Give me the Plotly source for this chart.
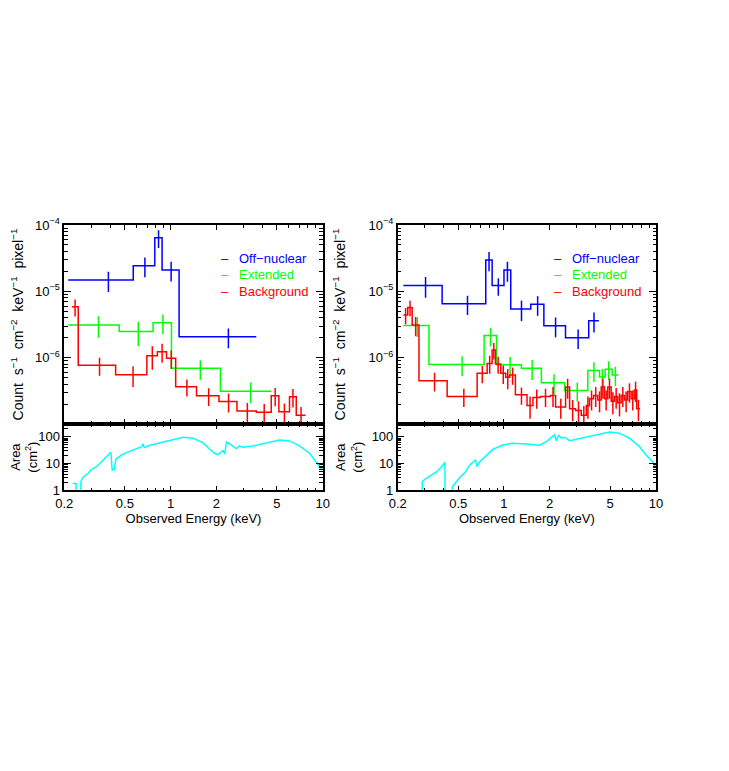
import plotly.graph_objects as go

# ---- values (energy in keV) ----

# left panel: count spectra
LEFT_BLUE_EDGES = [0.212, 0.568, 0.787, 0.879, 1.137, 3.66]
LEFT_BLUE_VALUES = [1.48e-5, 2.43e-5, 6.4e-5, 2.1e-5, 2.07e-6]
LEFT_BLUE_ERRORS = [0.5e-5, 0.8e-5, 1.9e-5, 0.69e-5, 0.68e-6]

LEFT_GREEN_EDGES = [0.212, 0.459, 0.767, 1.013, 2.126, 4.59]
LEFT_GREEN_VALUES = [3.1e-6, 2.49e-6, 3.37e-6, 6.9e-7, 3.13e-7]
LEFT_GREEN_ERRORS = [1.1e-6, 1.0e-6, 1.1e-6, 2.25e-7, 1.08e-7]

LEFT_RED_EDGES = [0.224, 0.247, 0.435, 0.698, 0.818, 0.94, 1.08, 1.48, 2.08,
                  2.73, 3.66, 4.59, 5.15, 6.05, 6.70, 7.71]
LEFT_RED_VALUES = [5.86e-6, 7.66e-7, 5.52e-7, 1.07e-6, 1.23e-6, 9.8e-7, 3.64e-7,
                   2.67e-7, 2.19e-7, 1.57e-7, 1.50e-7, 2.67e-7, 1.53e-7, 2.58e-7,
                   1.36e-7]
LEFT_RED_ERRORS = [1.7e-6, 2.3e-7, 1.9e-7, 4.1e-7, 3.9e-7, 3.0e-7, 1.05e-7, 0.8e-7,
                   0.7e-7, 0.5e-7, 0.5e-7, 0.82e-7, 0.5e-7, 0.8e-7, 0.45e-7]

# right panel: count spectra
RIGHT_BLUE_EDGES = [0.218, 0.392, 0.759, 0.836, 1.0, 1.108, 1.50, 1.83, 2.54,
                    3.61, 4.21]
RIGHT_BLUE_VALUES = [1.22e-5, 6.5e-6, 2.96e-5, 1.22e-5, 2.1e-5, 5.4e-6, 6.37e-6,
                     3.03e-6, 2.0e-6, 3.6e-6]
RIGHT_BLUE_ERRORS = [0.42e-5, 2.1e-6, 0.95e-5, 0.36e-5, 0.7e-5, 1.85e-6, 2.1e-6,
                     1.0e-6, 0.65e-6, 1.2e-6]

RIGHT_GREEN_EDGES = [0.218, 0.321, 0.740, 0.893, 1.302, 1.762, 2.506, 3.562,
                     4.25, 4.63, 5.15, 5.66]
RIGHT_GREEN_VALUES = [3.05e-6, 7.9e-7, 2.15e-6, 7.8e-7, 6.9e-7, 4.2e-7, 3.2e-7,
                      6.4e-7, 5.1e-7, 6.7e-7, 5.5e-7]
RIGHT_GREEN_ERRORS = [1.0e-6, 2.6e-7, 0.67e-6, 2.4e-7, 2.3e-7, 1.4e-7, 1.0e-7,
                      2.1e-7, 1.7e-7, 2.1e-7, 1.8e-7]

RIGHT_RED_EDGES = [0.218, 0.233, 0.249, 0.276, 0.423, 0.666, 0.775, 0.836, 0.879,
                   0.952, 1.027, 1.091, 1.189, 1.418, 1.551, 1.735, 2.018, 2.186,
                   2.544, 2.702, 2.958, 3.224, 3.478, 3.654, 3.882, 4.144, 4.362,
                   4.584, 4.818, 5.072, 5.334, 5.606, 5.90, 6.202, 6.52, 6.86,
                   7.21, 7.47, 7.86]
RIGHT_RED_VALUES = [4.4e-6, 5.7e-6, 3.1e-6, 4.5e-7, 2.6e-7, 5.8e-7, 8.2e-7, 1.3e-6,
                    8.0e-7, 5.8e-7, 5.05e-7, 5.5e-7, 2.75e-7, 1.9e-7, 2.5e-7, 2.6e-7,
                    2.7e-7, 1.8e-7, 3.6e-7, 1.7e-7, 1.6e-7, 1.36e-7, 1.9e-7, 2.4e-7,
                    2.7e-7, 2.3e-7, 3.6e-7, 2.4e-7, 3.6e-7, 2.2e-7, 2.6e-7, 2.1e-7,
                    2.7e-7, 2.3e-7, 3.1e-7, 2.4e-7, 3.25e-7, 1.7e-7]
RIGHT_RED_ERRORS = [1.2e-6, 1.5e-6, 1.0e-6, 1.4e-7, 0.8e-7, 1.7e-7, 2.5e-7, 3.6e-7,
                    2.3e-7, 1.8e-7, 1.7e-7, 1.6e-7, 0.8e-7, 0.7e-7, 0.8e-7, 0.8e-7,
                    0.9e-7, 0.6e-7, 1.2e-7, 0.6e-7, 0.6e-7, 0.5e-7, 0.7e-7, 0.8e-7,
                    0.9e-7, 0.8e-7, 1.2e-7, 0.8e-7, 1.2e-7, 0.8e-7, 0.9e-7, 0.8e-7,
                    0.9e-7, 0.8e-7, 1.0e-7, 0.8e-7, 1.1e-7, 0.6e-7]

# effective area curves (cm^2); 0.1 marks where the curve falls off the bottom
LEFT_AREA_ENERGY = [0.227, 0.239, 0.239, 0.257, 0.257, 0.266, 0.287, 0.302, 0.326,
                    0.343, 0.361, 0.379, 0.405, 0.413, 0.426, 0.437, 0.476, 0.513,
                    0.567, 0.644, 0.660, 0.670, 0.730, 0.849, 0.988, 1.208, 1.404,
                    1.634, 1.807, 1.95, 2.05, 2.157, 2.21, 2.27, 2.33, 2.45, 2.57,
                    2.71, 2.84, 2.96, 3.48, 4.26, 5.2, 6.05, 7.04, 8.19, 9.06, 9.92]
LEFT_AREA = [1.8, 1.8, 0.1, 0.1, 2.1, 3.07, 4.33, 6.1, 7.65, 10.3, 13.6, 19.3, 26.5,
             5.76, 6.1, 14.5, 21, 25.6, 32.3, 43, 54.2, 39.4, 48.4, 60.6, 76.5, 96.6,
             88.6, 60.6, 34.3, 24.3, 21.5, 27.2, 30.5, 22.9, 64.4, 54, 43, 36.1, 45.6,
             40.8, 45.6, 60.6, 76.5, 70.2, 45.6, 24.3, 11.8, 5.76]

RIGHT_AREA_ENERGY = [0.290, 0.290, 0.302, 0.326, 0.361, 0.389, 0.409, 0.41, 0.454,
                     0.458, 0.488, 0.513, 0.553, 0.596, 0.650, 0.666, 0.693, 0.767,
                     0.848, 0.986, 1.147, 1.404, 1.717, 1.90, 2.10, 2.15, 2.21, 2.29,
                     2.38, 2.51, 2.70, 2.99, 3.48, 4.25, 4.94, 5.75, 6.69, 7.78, 8.6,
                     9.5, 9.93]
RIGHT_AREA = [0.1, 2.1, 2.58, 3.43, 4.97, 7.65, 11.2, 0.1, 0.1, 1.36, 2.1, 3.07, 4.56,
              8.87, 13.6, 7.65, 11.8, 21, 34.3, 49.7, 57.5, 54, 48.4, 66, 101.7, 118,
              72, 118, 88.6, 96.6, 72, 81.3, 96.6, 128.5, 152.6, 137, 88.6, 43, 21,
              11.8, 7.65]

LEGEND_LABELS = ["Off\u2212nuclear", "Extended", "Background"]

ENERGY_TICKS = [0.2, 0.5, 1, 2, 5, 10]
ENERGY_MINOR = [0.3, 0.4, 0.6, 0.7, 0.8, 0.9, 3, 4, 6, 7, 8, 9]
COUNT_TICKS = [1e-6, 1e-5, 1e-4]
COUNT_TICK_TEXT = ["10<sup>\u22126</sup>", "10<sup>\u22125</sup>", "10<sup>\u22124</sup>"]
COUNT_MINOR = [m * 10.0 ** p for p in (-7, -6, -5) for m in range(2, 10)]
AREA_TICKS = [1, 10, 100]
AREA_MINOR = [2, 3, 4, 5, 6, 7, 8, 9, 20, 30, 40, 50, 60, 70, 80, 90, 200, 300]

BLUE = "#0000ff"
GREEN = "#00ff00"
RED = "#ff0000"
CYAN = "#00ffff"
FONT = "Liberation Sans, Arial, sans-serif"

# the page body adds an 8px margin, so the plot boxes are placed 8px up/left
PAGE_OFFSET = 8
W, H = 729, 771


def spectrum_traces(edges, values, errors, color, xa, ya):
    """Histogram steps for the model plus vertical error bars at the bin middles."""
    centres = [(lo + hi) / 2 for lo, hi in zip(edges[:-1], edges[1:])]
    step = go.Scatter(x=edges, y=values + values[-1:], mode="lines",
                      line=dict(color=color, width=1.5, shape="hv"),
                      xaxis=xa, yaxis=ya, hoverinfo="skip")
    bars = go.Scatter(x=centres, y=values, mode="markers",
                      marker=dict(size=2, color=color, opacity=0),
                      error_y=dict(type="data", array=errors, color=color,
                                   thickness=1.5, width=0),
                      xaxis=xa, yaxis=ya)
    return [step, bars]


def energy_axis(domain, anchor, labels):
    axis = dict(type="log", domain=domain, anchor=anchor, automargin=False,
                range=[-0.69897, 1.0],
                showline=True, linecolor="black", linewidth=1.5, mirror="ticks",
                ticks="inside", ticklen=5, tickwidth=1, tickcolor="black",
                tickmode="array", tickvals=ENERGY_TICKS,
                ticktext=[str(t) for t in ENERGY_TICKS],
                showticklabels=labels, showgrid=False, zeroline=False,
                minor=dict(tickmode="array", tickvals=ENERGY_MINOR, ticks="inside",
                           ticklen=3, tickcolor="black", showgrid=False),
                tickfont=dict(family=FONT, size=13, color="black"))
    if labels:
        axis["title"] = dict(text="Observed Energy (keV)",
                             font=dict(family=FONT, size=13, color="black"),
                             standoff=2)
    return axis


def count_axis(domain, anchor):
    return dict(type="log", domain=domain, anchor=anchor, range=[-7, -4],
                automargin=False,
                showline=True, linecolor="black", linewidth=1.5, mirror="ticks",
                ticks="inside", ticklen=7, tickwidth=1, tickcolor="black",
                tickmode="array", tickvals=COUNT_TICKS, ticktext=COUNT_TICK_TEXT,
                showgrid=False, zeroline=False,
                minor=dict(tickmode="array", tickvals=COUNT_MINOR, ticks="inside",
                           ticklen=3.5, tickcolor="black", showgrid=False),
                tickfont=dict(family=FONT, size=13, color="black"),
                title=dict(text="Count  s<sup>\u22121</sup>  cm<sup>\u22122</sup>  "
                                "keV<sup>\u22121</sup>  pixel<sup>\u22121</sup>",
                           font=dict(family=FONT, size=14, color="black"),
                           standoff=20))


def area_axis(domain, anchor):
    return dict(type="log", domain=domain, anchor=anchor, range=[0, 2.48],
                automargin=False,
                showline=True, linecolor="black", linewidth=1.5, mirror="ticks",
                ticks="inside", ticklen=7, tickwidth=1, tickcolor="black",
                tickmode="array", tickvals=AREA_TICKS,
                ticktext=[str(t) for t in AREA_TICKS],
                showgrid=False, zeroline=False,
                minor=dict(tickmode="array", tickvals=AREA_MINOR, ticks="inside",
                           ticklen=3.5, tickcolor="black", showgrid=False),
                tickfont=dict(family=FONT, size=13, color="black"),
                title=dict(text="Area<br>(cm<sup>2</sup>)",
                           font=dict(family=FONT, size=13, color="black"),
                           standoff=6))


def legend_annotations(xa, ya):
    notes = []
    for label, color, y in zip(LEGEND_LABELS, [BLUE, GREEN, RED], [0.833, 0.749, 0.665]):
        notes.append(dict(text="\u2013", x=0.62, y=y, xref=xa + " domain", yref=ya + " domain",
                          showarrow=False, xanchor="center", yanchor="middle",
                          font=dict(family=FONT, size=13, color=color)))
        notes.append(dict(text=label, x=0.667, y=y, xref=xa + " domain", yref=ya + " domain",
                          showarrow=False, xanchor="left", yanchor="middle",
                          font=dict(family=FONT, size=13, color=color)))
    return notes


def x_domain(x0, x1):
    return [(x0 - PAGE_OFFSET) / W, (x1 - PAGE_OFFSET) / W]


def y_domain(top_px, bottom_px):
    return [1 - (bottom_px - PAGE_OFFSET) / H, 1 - (top_px - PAGE_OFFSET) / H]


fig = go.Figure()

# left panel
for e, v, err, c in [(LEFT_BLUE_EDGES, LEFT_BLUE_VALUES, LEFT_BLUE_ERRORS, BLUE),
                     (LEFT_GREEN_EDGES, LEFT_GREEN_VALUES, LEFT_GREEN_ERRORS, GREEN),
                     (LEFT_RED_EDGES, LEFT_RED_VALUES, LEFT_RED_ERRORS, RED)]:
    fig.add_traces(spectrum_traces(e, v, err, c, "x", "y"))
fig.add_trace(go.Scatter(x=LEFT_AREA_ENERGY, y=LEFT_AREA, mode="lines",
                         line=dict(color=CYAN, width=1.5), xaxis="x2", yaxis="y2"))

# right panel
for e, v, err, c in [(RIGHT_BLUE_EDGES, RIGHT_BLUE_VALUES, RIGHT_BLUE_ERRORS, BLUE),
                     (RIGHT_GREEN_EDGES, RIGHT_GREEN_VALUES, RIGHT_GREEN_ERRORS, GREEN),
                     (RIGHT_RED_EDGES, RIGHT_RED_VALUES, RIGHT_RED_ERRORS, RED)]:
    fig.add_traces(spectrum_traces(e, v, err, c, "x3", "y3"))
fig.add_trace(go.Scatter(x=RIGHT_AREA_ENERGY, y=RIGHT_AREA, mode="lines",
                         line=dict(color=CYAN, width=1.5), xaxis="x4", yaxis="y4"))

left = x_domain(64.3, 322.7)
right = x_domain(397.7, 656.0)
top = y_domain(225, 424)
bottom = y_domain(424, 490.3)

fig.update_layout(
    width=W, height=H,
    margin=dict(l=0, r=0, t=0, b=0, autoexpand=False),
    paper_bgcolor="white", plot_bgcolor="white",
    showlegend=False,
    font=dict(family=FONT, size=13, color="black"),
    xaxis=energy_axis(left, "y", False),
    yaxis=count_axis(top, "x"),
    xaxis2=energy_axis(left, "y2", True),
    yaxis2=area_axis(bottom, "x2"),
    xaxis3=energy_axis(right, "y3", False),
    yaxis3=count_axis(top, "x3"),
    xaxis4=energy_axis(right, "y4", True),
    yaxis4=area_axis(bottom, "x4"),
    annotations=legend_annotations("x", "y") + legend_annotations("x3", "y3"),
)

fig.write_html("out.html")
